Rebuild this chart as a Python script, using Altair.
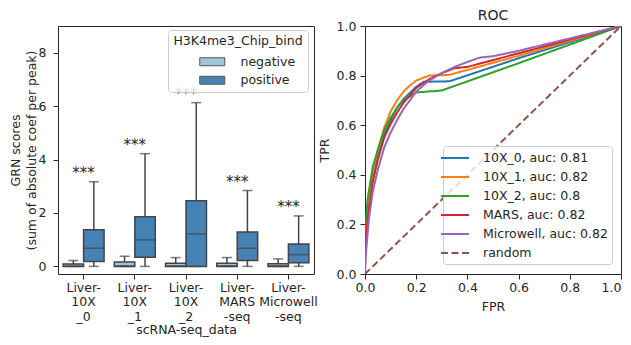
import altair as alt
import pandas as pd

# ---------------- box plot data ----------------
categories = ["Liver-\n10X\n_0", "Liver-\n10X\n_1", "Liver-\n10X\n_2",
              "Liver-\nMARS\n-seq", "Liver-\nMicrowell\n-seq"]
groups = ["negative", "positive"]
group_colors = ["#a1c6dc", "#4682b4"]

neg_low = [0.0, 0.0, 0.0, 0.0, 0.0]
neg_q1 = [0.0, 0.0, 0.0, 0.0, 0.0]
neg_med = [0.01, 0.02, 0.02, 0.02, 0.02]
neg_q3 = [0.09, 0.16, 0.12, 0.12, 0.10]
neg_high = [0.22, 0.38, 0.33, 0.33, 0.28]

pos_low = [0.0, 0.0, 0.0, 0.0, 0.0]
pos_q1 = [0.18, 0.34, 0.0, 0.22, 0.14]
pos_med = [0.68, 0.99, 1.22, 0.68, 0.44]
pos_q3 = [1.37, 1.86, 2.46, 1.29, 0.84]
pos_high = [3.17, 4.22, 6.13, 2.84, 1.89]

stars = ["***", "***", "***", "***", "***"]

# ---------------- ROC data ----------------
roc_labels = ["10X_0, auc: 0.81", "10X_1, auc: 0.82", "10X_2, auc: 0.8",
              "MARS, auc: 0.82", "Microwell, auc: 0.82", "random"]
roc_colors = ["#1f77b4", "#ff7f0e", "#2ca02c", "#d62728", "#9467bd", "#8c564b"]

fpr_10x0 = [0, 0, 0.01, 0.03, 0.05, 0.075, 0.1, 0.125, 0.15, 0.175, 0.2, 0.23, 0.33, 0.6, 1]
tpr_10x0 = [0, 0.12, 0.25, 0.38, 0.47, 0.56, 0.62, 0.67, 0.705, 0.73, 0.755, 0.775, 0.777, 0.87, 1]

fpr_10x1 = [0, 0, 0.01, 0.03, 0.05, 0.075, 0.1, 0.125, 0.15, 0.175, 0.2, 0.25, 0.33, 0.6, 1]
tpr_10x1 = [0, 0.1, 0.27, 0.41, 0.5, 0.59, 0.655, 0.7, 0.735, 0.76, 0.78, 0.8, 0.803, 0.88, 1]

fpr_10x2 = [0, 0, 0.01, 0.03, 0.05, 0.075, 0.1, 0.125, 0.15, 0.2, 0.3, 0.6, 1]
tpr_10x2 = [0, 0.15, 0.3, 0.43, 0.5, 0.58, 0.63, 0.67, 0.7, 0.732, 0.74, 0.85, 1]

fpr_mars = [0, 0, 0.01, 0.03, 0.05, 0.075, 0.1, 0.125, 0.15, 0.2, 0.25, 0.3, 0.35, 0.4, 0.6, 1]
tpr_mars = [0, 0.1, 0.22, 0.37, 0.46, 0.55, 0.605, 0.65, 0.69, 0.75, 0.785, 0.81, 0.83, 0.835, 0.89, 1]

fpr_micro = [0, 0.005, 0.015, 0.03, 0.05, 0.075, 0.1, 0.125, 0.15, 0.2, 0.25, 0.3, 0.35, 0.4, 0.45, 0.5, 0.6, 1]
tpr_micro = [0, 0.1, 0.22, 0.33, 0.42, 0.51, 0.57, 0.62, 0.665, 0.735, 0.78, 0.81, 0.835, 0.855, 0.873, 0.878, 0.9, 1]

fpr_random = [0, 1]
tpr_random = [0, 1]

FONT = "DejaVu Sans"
TXT = "#262626"
EDGE = "#444444"

# ---------------- build tables ----------------
rows = []
for i, c in enumerate(categories):
    rows.append(dict(cat=c, grp="negative", low=neg_low[i], q1=neg_q1[i],
                     med=neg_med[i], q3=neg_q3[i], high=neg_high[i]))
    rows.append(dict(cat=c, grp="positive", low=pos_low[i], q1=pos_q1[i],
                     med=pos_med[i], q3=pos_q3[i], high=pos_high[i]))
box_df = pd.DataFrame(rows)
star_df = pd.DataFrame({"cat": categories, "top": pos_high, "txt": stars})

series = [(fpr_10x0, tpr_10x0), (fpr_10x1, tpr_10x1), (fpr_10x2, tpr_10x2),
          (fpr_mars, tpr_mars), (fpr_micro, tpr_micro), (fpr_random, tpr_random)]
roc_rows = []
for lab, (fx, ty) in zip(roc_labels, series):
    for k, (a, b) in enumerate(zip(fx, ty)):
        roc_rows.append(dict(series=lab, fpr=a, tpr=b, idx=k))
roc_df = pd.DataFrame(roc_rows)

# ---------------- left: box plot ----------------
yscale = alt.Scale(domain=[-0.285, 9.0], nice=False, zero=False)
xenc = alt.X("cat:N", sort=categories,
             scale=alt.Scale(paddingInner=0, paddingOuter=0),
             axis=alt.Axis(title="scRNA-seq_data", labelAngle=0,
                           labelExpr="split(datum.label, '\\n')",
                           labelLineHeight=14.5, labelPadding=2, titlePadding=1))
xoff = alt.XOffset("grp:N", sort=groups,
                   scale=alt.Scale(paddingInner=0, paddingOuter=0.25))

base = alt.Chart(box_df).encode(x=xenc, xOffset=xoff)

whisk = base.mark_rule(color=EDGE, strokeWidth=1.5).encode(
    y=alt.Y("low:Q", scale=yscale,
            axis=alt.Axis(values=[0, 2, 4, 6, 8],
                          title=["GRN scores", "(sum of absolute coef per peak)"],
                          titleLineHeight=16, titlePadding=0, labelPadding=7)),
    y2="high:Q")
boxes = base.mark_bar(stroke=EDGE, strokeWidth=1.5).encode(
    y="q1:Q", y2="q3:Q",
    color=alt.Color("grp:N", sort=groups,
                    scale=alt.Scale(domain=groups, range=group_colors),
                    legend=alt.Legend(title="H3K4me3_Chip_bind", orient="none",
                                      legendX=110, legendY=4,
                                      titleAnchor="middle", titleAlign="center",
                                      symbolType="M-3.125,-1H3.125V1H-3.125Z",
                                      symbolSize=64, symbolStrokeColor="#555",
                                      symbolStrokeWidth=1, symbolOffset=26,
                                      labelOffset=22, rowPadding=5.5,
                                      titlePadding=8, padding=5,
                                      fillColor="rgba(255,255,255,0.85)",
                                      strokeColor="#cccccc", cornerRadius=3)))
medians = base.mark_tick(color=EDGE, thickness=1.5, size=20).encode(y="med:Q")
cap_lo = base.mark_tick(color=EDGE, thickness=1.5, size=10).encode(y="low:Q")
cap_hi = base.mark_tick(color=EDGE, thickness=1.5, size=10).encode(y="high:Q")

star_txt = alt.Chart(star_df).mark_text(fontSize=15, baseline="alphabetic",
                                        dy=-4, color=TXT, font=FONT).encode(
    x=alt.X("cat:N", sort=categories), y="top:Q", text="txt:N")

left = alt.layer(whisk, boxes, medians, cap_lo, cap_hi, star_txt).properties(
    width=256, height=248)

# ---------------- right: ROC ----------------
ticks01 = [0, 0.2, 0.4, 0.6, 0.8, 1.0]
roc_legend = alt.Legend(title=None, orient="none", legendX=78, legendY=120,
                        symbolType="M-2,0H2", symbolSize=196, symbolStrokeWidth=2,
                        symbolOffset=0, labelOffset=20, rowPadding=4, padding=4,
                        fillColor="rgba(255,255,255,0.8)",
                        strokeColor="#cccccc", cornerRadius=3)
right = alt.Chart(roc_df).mark_line(strokeWidth=2, clip=True).encode(
    x=alt.X("fpr:Q", scale=alt.Scale(domain=[0, 1], nice=False),
            axis=alt.Axis(title="FPR", values=ticks01, format=".1f",
                          labelFlush=False, labelPadding=2, titlePadding=7,
                          labelAlign={"condition": {"test": "datum.value >= 1",
                                                    "value": "right"},
                                      "value": "center"})),
    y=alt.Y("tpr:Q", scale=alt.Scale(domain=[0, 1], nice=False),
            axis=alt.Axis(title="TPR", values=ticks01, format=".1f",
                          labelFlush=False, labelPadding=4, titlePadding=5)),
    color=alt.Color("series:N", sort=roc_labels,
                    scale=alt.Scale(domain=roc_labels, range=roc_colors),
                    legend=roc_legend),
    strokeDash=alt.StrokeDash("series:N", sort=roc_labels,
                              scale=alt.Scale(domain=roc_labels,
                                              range=[[1, 0]] * 5 + [[7, 3.5]]),
                              legend=roc_legend),
    order="idx:Q",
).properties(width=256, height=248,
             title=alt.TitleParams("ROC", fontSize=14, fontWeight="normal",
                                   color=TXT, font=FONT, offset=-3))

chart = alt.hconcat(left, right, spacing=51, bounds="flush", padding=0).resolve_scale(
    color="independent", strokeDash="independent"
).configure(font=FONT).configure_view(
    stroke=TXT, strokeWidth=1
).configure_axis(
    domain=False, grid=False, tickColor=TXT, tickSize=5, tickWidth=1,
    labelColor=TXT, titleColor=TXT, labelFont=FONT, titleFont=FONT,
    labelFontSize=12.5, titleFontSize=12.5, titleFontWeight="normal"
).configure_legend(
    labelFont=FONT, titleFont=FONT, labelFontSize=12.5, titleFontSize=12.5,
    titleFontWeight="normal", labelColor=TXT, titleColor=TXT
)

chart.save("out.html", embed_options={"renderer": "svg", "actions": False})
